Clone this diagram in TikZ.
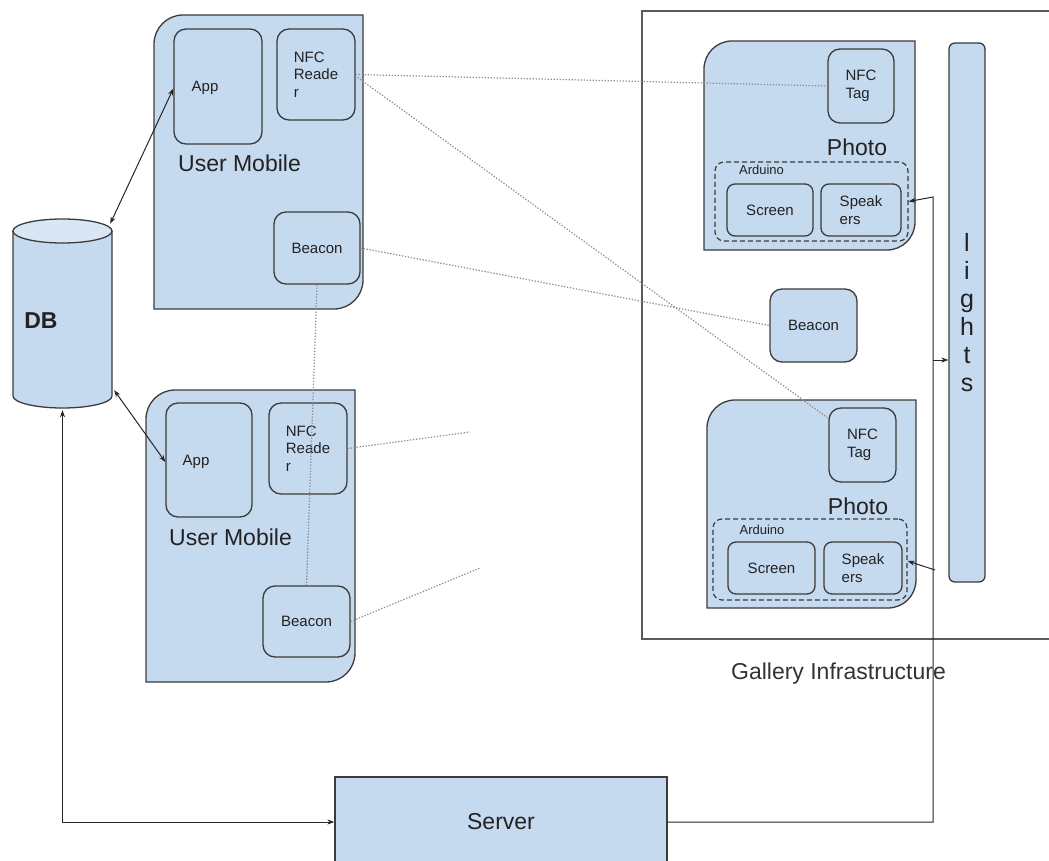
\documentclass[tikz,border=0pt]{standalone}
\usepackage{fontspec}
\setmainfont{Liberation Sans}
\usetikzlibrary{arrows.meta,calc}
\definecolor{boxfill}{HTML}{C5D9EF}
\definecolor{boxline}{HTML}{3C3C3C}
\definecolor{dotline}{HTML}{8C8C8C}
\definecolor{dbtop}{HTML}{D8E6F5}
\definecolor{txt}{HTML}{222222}
\definecolor{frame}{HTML}{5A5A5A}
\newcommand\mycornerbox[5]{%
  \filldraw[container] (#1,{#2+#5}) .. controls (#1,{#2+0.448*#5}) and ({#1+0.448*#5},#2) .. ({#1+#5},#2)
    -- (#3,#2) -- (#3,{#4-#5}) .. controls (#3,{#4-0.448*#5}) and ({#3-0.448*#5},#4) .. ({#3-#5},#4)
    -- (#1,#4) -- cycle;}
\begin{document}
\begin{tikzpicture}[x=1pt,y=-1pt,
  container/.style={draw=boxline, fill=boxfill, line width=1.3pt},
  part/.style={draw=boxline, fill=boxfill, line width=1.3pt, rounded corners=12pt, text=txt,
    font=\fontsize{15}{17.5}\selectfont, align=left, inner sep=0pt},
  smallpart/.style={part, rounded corners=8pt},
  arduino/.style={draw=boxline, line width=1.2pt, dash pattern=on 5pt off 3pt, rounded corners=9pt},
  bigtext/.style={text=txt, font=\fontsize{23}{26}\selectfont, inner sep=0pt},
  smalltext/.style={text=txt, font=\fontsize{15}{17.5}\selectfont, inner sep=0pt},
  tinytext/.style={text=txt, font=\fontsize{13}{15}\selectfont, inner sep=0pt},
  conn/.style={draw=black!85, line width=1pt},
  tip/.style={-{Stealth[length=7pt,width=5pt]}},
  twotip/.style={{Stealth[length=7pt,width=5pt]}-{Stealth[length=7pt,width=5pt]}},
  radio/.style={draw=dotline, line width=1.2pt, dash pattern=on 1.3pt off 1.7pt}]
\useasboundingbox (0,0) rectangle (1049,861);
\fill[white] (0,0) rectangle (1049,861);

% gallery frame
\draw[draw=frame, line width=1.2pt] (1060,11) -- (642,11) -- (642,639) -- (1060,639);
\node[bigtext, text=black!80] (gallerylbl) at (838.5,674) {Gallery Infrastructure};

% containers
\mycornerbox{154}{15}{363}{309}{29}
\mycornerbox{146}{390}{355}{682}{29}
\mycornerbox{704}{41}{915}{250}{28}
\mycornerbox{707}{400}{916}{608}{28}

% DB cylinder
\filldraw[container] (13,231) -- (13,396) .. controls (13,402.6) and (35.2,408) .. (62.5,408)
  .. controls (89.8,408) and (112,402.6) .. (112,396) -- (112,231) -- cycle;
\filldraw[container, fill=dbtop] (62.5,231) ellipse [x radius=49.5, y radius=12];
\node[minimum width=99pt, minimum height=190pt, inner sep=0pt] (db) at (62.5,313) {};
\node[bigtext, font=\fontsize{23}{26}\selectfont\bfseries] (dblbl) at (41,321) {DB};

% user mobile 1
\node[part, minimum width=88pt, minimum height=115pt] (app1) at (218,86.5) {};
\node[smalltext] (app1lbl) at (205,88) {App};
\node[part, minimum width=78pt, minimum height=91pt] (nfcr1) at (316,74.5) {NFC\\Reade\\r};
\node[part, align=center, minimum width=86pt, minimum height=72pt] (beacon1) at (317,248) {Beacon};
\node[bigtext] (um1) at (239.5,163) {User Mobile};

% user mobile 2
\node[part, minimum width=86pt, minimum height=114pt] (app2) at (209,460) {};
\node[smalltext] (app2lbl) at (196,462) {App};
\node[part, minimum width=78pt, minimum height=91pt] (nfcr2) at (308,448.5) {NFC\\Reade\\r};
\node[part, align=center, minimum width=87pt, minimum height=71pt] (beacon2) at (306.5,621.5) {Beacon};
\node[bigtext] (um2) at (230.5,537) {User Mobile};

% photo 1
\node[part, minimum width=66pt, minimum height=74pt] (tag1) at (861,86) {NFC\\Tag};
\node[bigtext] (photo1) at (857,147) {Photo};
\node[arduino, minimum width=193pt, minimum height=79pt] (ard1) at (811.5,201.5) {};
\node[tinytext] (ard1lbl) at (761.5,170) {Arduino};
\node[smallpart, align=center, minimum width=86pt, minimum height=52pt] (screen1) at (770,210) {Screen};
\node[smallpart, minimum width=80pt, minimum height=52pt] (spk1) at (861,210) {Speak\\ers};

% gallery beacon
\node[part, align=center, minimum width=87pt, minimum height=73pt] (gbeacon) at (813.5,325.5) {Beacon};

% photo 2
\node[part, minimum width=67pt, minimum height=74pt] (tag2) at (862.5,445) {NFC\\Tag};
\node[bigtext] (photo2) at (858,506) {Photo};
\node[arduino, minimum width=194pt, minimum height=81pt] (ard2) at (810,559.5) {};
\node[tinytext] (ard2lbl) at (762,530) {Arduino};
\node[smallpart, align=center, minimum width=87pt, minimum height=52pt] (screen2) at (771.5,568) {Screen};
\node[smallpart, minimum width=78pt, minimum height=52pt] (spk2) at (863,568) {Speak\\ers};

% lights
\node[part, rounded corners=6pt, align=center, minimum width=36pt, minimum height=539pt,
  font=\fontsize{25}{28}\selectfont] (lights) at (967,312.5) {l\\i\\g\\h\\t\\s};

% server
\node[draw=boxline, fill=boxfill, line width=1.3pt, minimum width=332pt, minimum height=90pt,
  inner sep=0pt, font=\fontsize{23}{26}\selectfont, text=txt] (server) at (501,822) {Server};

% connectors
\draw[conn, twotip] ($(app1.west)+(0,2)$) -- ($(db.north east)+(-2,6)$);
\draw[conn, twotip] ($(db.south east)+(2,-18)$) -- ($(app2.west)+(0,2)$);
\draw[conn, twotip] ($(db.south)+(0,2)$) |- (server.west);
\coordinate (junc) at (933,197);
\coordinate (ljunc) at (933,360);
\coordinate (sjunc) at (935,570);
\draw[conn, tip] (server.east) -| (junc) -- (ard1.east);
\draw[conn, tip] (ljunc) -- (ljunc -| lights.west);
\draw[conn, tip] (sjunc) -- ($(ard2.east)+(0,1.5)$);

% wireless links
\coordinate (free1) at (470,432);
\coordinate (free2) at (480,568);
\draw[radio] (nfcr1.east) -- (tag1.west);
\draw[radio] ($(nfcr1.east)+(2,3)$) -- ($(tag2.north west)+(0,11)$);
\draw[radio] (beacon1.east) -- (gbeacon.west);
\draw[radio] (beacon1.south) -- (beacon2.north);
\draw[radio] (nfcr2.east) -- (free1);
\draw[radio] (beacon2.east) -- (free2);
\end{tikzpicture}
\end{document}
